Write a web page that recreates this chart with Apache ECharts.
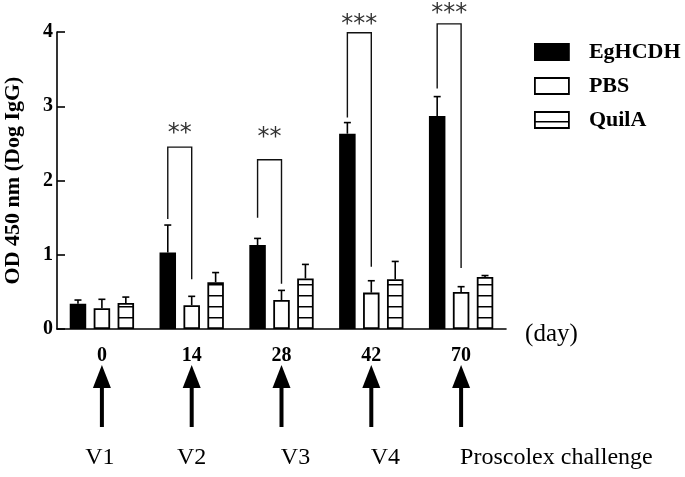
<!DOCTYPE html>
<html><head><meta charset="utf-8">
<script src="https://cdn.jsdelivr.net/npm/echarts@6/dist/echarts.min.js"></script>
<style>html,body{margin:0;padding:0;background:#fff}#c{width:685px;height:477px}</style>
</head><body><div id="c"></div>
<script>
// ---- data ----
const days = ['0', '14', '28', '42', '70'];
const seriesNames = ['EgHCDH', 'PBS', 'QuilA'];
const egHCDH = [0.34, 1.03, 1.13, 2.63, 2.87];
const egHCDHUpper = [0.39, 1.40, 1.22, 2.78, 3.13];
const pbs = [0.28, 0.32, 0.39, 0.49, 0.50];
const pbsUpper = [0.40, 0.44, 0.52, 0.65, 0.57];
const quilA = [0.35, 0.63, 0.68, 0.67, 0.70];
const quilAUpper = [0.43, 0.76, 0.87, 0.91, 0.72];
const yTicks = [0, 1, 2, 3, 4];
// significance brackets (EgHCDH vs PBS)
const sigCats = [1, 2, 3, 4];
const sigLeft = [1.48, 1.50, 2.85, 3.24];
const sigTop = [2.45, 2.28, 3.99, 4.11];
const sigRight = [0.67, 0.61, 0.84, 0.82];
const sigStars = ['**', '**', '***', '***'];
const sigStarLevel = [2.70, 2.64, 4.16, 4.31];
const schedule = ['V1', 'V2', 'V3', 'V4', 'Proscolex challenge'];
const xUnit = '(day)';

// ---- layout constants ----
const FONT = 'Liberation Serif';
const BAR_W = 16.5, GAP_FRAC = 0.45;
const STEP = BAR_W * (1 + GAP_FRAC);
const scheduleShift = [-2, 0, 14, 14, -1];
const scheduleAlign = ['center', 'center', 'center', 'center', 'left'];

function stripePattern() {
  const c = document.createElement('canvas');
  c.width = 8; c.height = 11;
  const g = c.getContext('2d');
  g.fillStyle = '#fff'; g.fillRect(0, 0, 8, 11);
  g.fillStyle = '#000'; g.fillRect(0, 9, 8, 1.5);
  return c;
}
const stripe = { image: stripePattern(), repeat: 'repeat' };

const barValues = [egHCDH, pbs, quilA];
const upperValues = [egHCDHUpper, pbsUpper, quilAUpper];
const barColors = ['#000', '#fff', stripe];

const chart = echarts.init(document.getElementById('c'), null, { renderer: 'canvas' });

const series = [];
seriesNames.forEach((n, k) => {
  series.push({
    name: n, type: 'bar', data: barValues[k], barWidth: BAR_W, barGap: (GAP_FRAC * 100) + '%',
    itemStyle: { color: barColors[k], borderColor: '#000', borderWidth: 1.8 },
    z: 2
  });
});
seriesNames.forEach((n, k) => {
  series.push({
    type: 'custom', z: 3, silent: true,
    data: days.map((d, i) => [i, upperValues[k][i], barValues[k][i]]),
    renderItem: function (params, api) {
      const i = api.value(0);
      const top = api.coord([i, api.value(1)]);
      const base = api.coord([i, api.value(2)]);
      const x = top[0] + (k - 1) * STEP;
      return { type: 'group', children: [
        { type: 'line', shape: { x1: x, y1: base[1], x2: x, y2: top[1] }, style: { stroke: '#000', lineWidth: 1.6 } },
        { type: 'line', shape: { x1: x - 3.5, y1: top[1], x2: x + 3.5, y2: top[1] }, style: { stroke: '#000', lineWidth: 1.6 } }
      ]};
    }
  });
});
// brackets
series.push({
  type: 'custom', z: 4, clip: false, silent: true,
  data: sigCats.map((c, j) => [c, sigTop[j], sigLeft[j], sigRight[j], sigStarLevel[j], j]),
  renderItem: function (params, api) {
    const i = api.value(0);
    const j = api.value(5);
    const pTop = api.coord([i, api.value(1)]);
    const yL = api.coord([i, api.value(2)])[1];
    const yR = api.coord([i, api.value(3)])[1];
    const yS = api.coord([i, api.value(4)])[1];
    const x1 = pTop[0], x0 = x1 - STEP;
    return { type: 'group', children: [
      { type: 'polyline', shape: { points: [[x0, yL], [x0, pTop[1]], [x1, pTop[1]], [x1, yR]] }, style: { stroke: '#111', lineWidth: 1.4, fill: null } },
      { type: 'text', style: { text: sigStars[j], x: (x0 + x1) / 2, y: yS + 5, align: 'center', verticalAlign: 'middle', font: '24px "DejaVu Sans"', fill: '#333' } }
    ]};
  }
});
// vaccination arrows and labels, plus the x unit label
series.push({
  type: 'custom', z: 4, clip: false, silent: true,
  data: days.map((d, i) => [i, 0]),
  renderItem: function (params, api) {
    const i = api.value(0);
    const p = api.coord([i, 0]);
    const x = p[0], y = p[1];
    const kids = [
      { type: 'polygon', shape: { points: [[x, y + 36], [x - 9, y + 59], [x + 9, y + 59]] }, style: { fill: '#000' } },
      { type: 'rect', shape: { x: x - 2, y: y + 57, width: 4, height: 41 }, style: { fill: '#000' } },
      { type: 'text', style: { text: schedule[i], x: x + scheduleShift[i], y: y + 129, align: scheduleAlign[i], verticalAlign: 'middle', font: '24px "' + FONT + '"', fill: '#000' } }
    ];
    if (i === days.length - 1) {
      kids.push({ type: 'text', style: { text: xUnit, x: x + 64, y: y + 5, align: 'left', verticalAlign: 'middle', font: '25px "' + FONT + '"', fill: '#000' } });
    }
    return { type: 'group', children: kids };
  }
});

chart.setOption({
  animation: false,
  backgroundColor: '#fff',
  grid: { left: 57, right: 179, top: 32, bottom: 148, outerBoundsMode: 'none', containLabel: false },
  legend: {
    orient: 'vertical', left: 534, top: 41, padding: 0, itemGap: 12,
    itemWidth: 34, itemHeight: 16, icon: 'rect',
    data: seriesNames,
    itemStyle: { borderWidth: 1.8 },
    textStyle: { fontFamily: FONT, fontWeight: 'bold', fontSize: 22, color: '#000', padding: [0, 0, 0, 15] }
  },
  xAxis: {
    type: 'category', data: days,
    axisLine: { lineStyle: { color: '#000', width: 1.6 } },
    axisTick: { alignWithLabel: true, length: 7, lineStyle: { color: '#000', width: 1.6 } },
    axisLabel: { fontFamily: FONT, fontWeight: 'bold', fontSize: 20, color: '#000', margin: 17 }
  },
  yAxis: {
    type: 'value', min: yTicks[0], max: yTicks[yTicks.length - 1], interval: 1,
    name: 'OD 450 nm (Dog IgG)', nameLocation: 'middle', nameGap: 33,
    nameTextStyle: { fontFamily: FONT, fontWeight: 'bold', fontSize: 22, color: '#000' },
    axisLine: { show: true, lineStyle: { color: '#000', width: 1.6 } },
    axisTick: { show: true, inside: true, length: 8, lineStyle: { color: '#000', width: 1.6 } },
    axisLabel: { fontFamily: FONT, fontWeight: 'bold', fontSize: 20, color: '#000', margin: 4 },
    splitLine: { show: false }
  },
  series: series
});
</script>
</body></html>
